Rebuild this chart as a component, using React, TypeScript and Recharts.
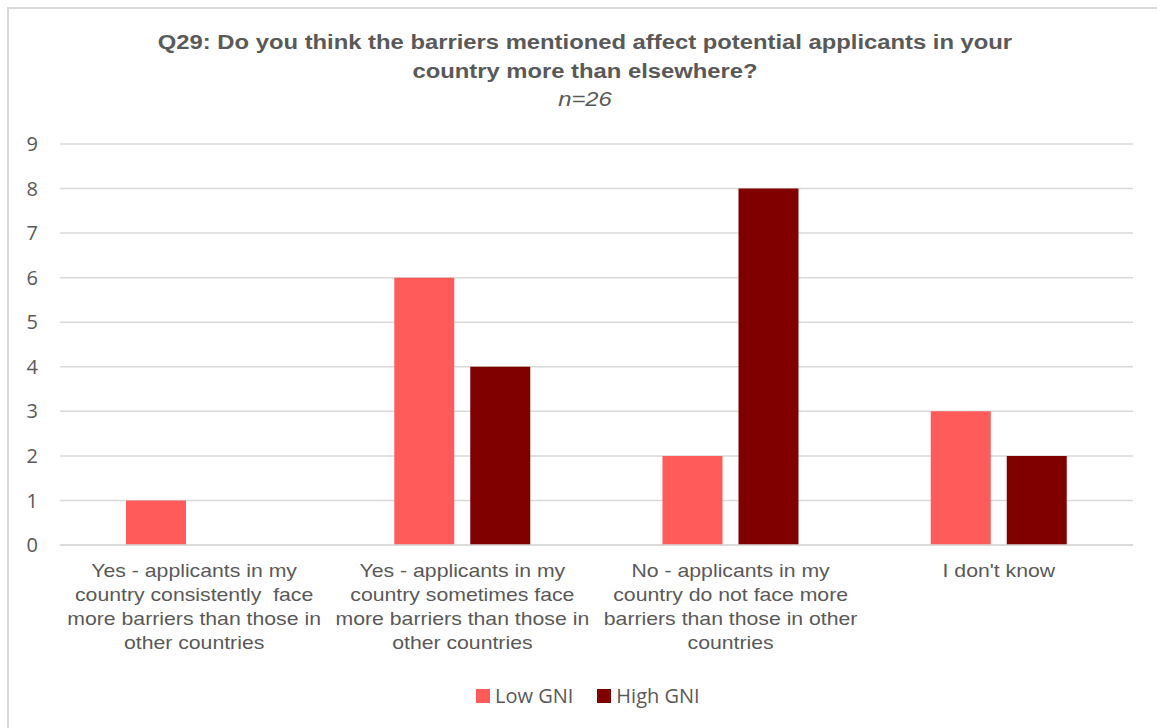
import React from 'react';
import { BarChart, Bar, XAxis, YAxis, CartesianGrid } from 'recharts';

const categories = ['consistently', 'sometimes', 'not', 'dontknow'];
const categoryLines = [
  ['Yes - applicants in my', 'country consistently  face', 'more barriers than those in', 'other countries'],
  ['Yes - applicants in my', 'country sometimes face', 'more barriers than those in', 'other countries'],
  ['No - applicants in my', 'country do not face more', 'barriers than those in other', 'countries'],
  ["I don't know"],
];
const lowGni = [1, 6, 2, 3];
const highGni = [0, 4, 8, 2];
const yTicks = [0, 1, 2, 3, 4, 5, 6, 7, 8, 9];

const LOW = '#FF5B5B';
const HIGH = '#800000';
const GRID = '#d9d9d9';
const TEXT = '#595959';

const data = categories.map((c, i) => ({ name: c, low: lowGni[i], high: highGni[i] }));

// the source picture is stretched sideways a bit, so widen the Arial text to match
const STRETCH = 1.18;

const CategoryTick = (props: any) => {
  const { x, y, payload } = props;
  const idx = categories.indexOf(payload.value);
  const lines = categoryLines[idx] || [];
  return (
    <text
      x={x}
      y={y}
      textAnchor="middle"
      fill={TEXT}
      fontSize={18}
      fontFamily="'Liberation Sans', Arial, sans-serif"
      transform={`translate(${x},0) scale(${STRETCH},1) translate(${-x},0)`}
    >
      {lines.map((l, i) => (
        <tspan key={i} x={x} dy={24} style={{ whiteSpace: 'pre' }}>{l}</tspan>
      ))}
    </text>
  );
};

export default function App() {
  return (
    <div style={{ position: 'absolute', left: 0, top: 0, width: 1157, height: 728, overflow: 'hidden', background: '#fff' }}>
      <div style={{ position: 'absolute', left: 7, top: 7, width: 1200, height: 800, borderLeft: `2px solid ${GRID}`, borderTop: `2px solid ${GRID}` }} />
      <div style={{ position: 'absolute', left: 0, top: 28, width: 1170, textAlign: 'center', color: TEXT, fontFamily: "'Liberation Sans', Arial, sans-serif", transform: `scaleX(${STRETCH + 0.01})`, transformOrigin: '585px 0' }}>
        <div style={{ fontSize: 20, fontWeight: 'bold', lineHeight: '29px' }}>
          Q29: Do you think the barriers mentioned affect potential applicants in your
          <br />
          country more than elsewhere?
        </div>
        <div style={{ fontSize: 20, fontStyle: 'italic', lineHeight: '26px' }}>n=26</div>
      </div>
      <div style={{ position: 'absolute', left: 0, top: 0 }}>
        <BarChart width={1157} height={728} data={data} margin={{ top: 144, right: 24, left: 20, bottom: 0 }} barGap={16} barSize={60}>
          <CartesianGrid vertical={false} stroke={GRID} strokeWidth={1.5} />
          <XAxis
            dataKey="name"
            height={183}
            interval={0}
            tickLine={false}
            axisLine={{ stroke: GRID, strokeWidth: 1.5 }}
            tick={<CategoryTick />}
          />
          <YAxis
            domain={[0, 9]}
            ticks={yTicks}
            width={40}
            axisLine={false}
            tickLine={false}
            tickMargin={16}
            tick={{ fill: TEXT, fontSize: 20, fontFamily: "'Open Sans', sans-serif" }}
          />
          <Bar dataKey="low" name="Low GNI" fill={LOW} isAnimationActive={false} />
          <Bar dataKey="high" name="High GNI" fill={HIGH} isAnimationActive={false} />
        </BarChart>
      </div>
      <div style={{ position: 'absolute', left: 476, top: 682, display: 'flex', alignItems: 'center', color: TEXT, fontSize: 20, fontFamily: "'Open Sans', sans-serif" }}>
        <span style={{ display: 'inline-block', width: 14, height: 14, background: LOW, marginRight: 5 }} />
        <span style={{ marginRight: 24 }}>Low GNI</span>
        <span style={{ display: 'inline-block', width: 14, height: 14, background: HIGH, marginRight: 5 }} />
        <span>High GNI</span>
      </div>
    </div>
  );
}
